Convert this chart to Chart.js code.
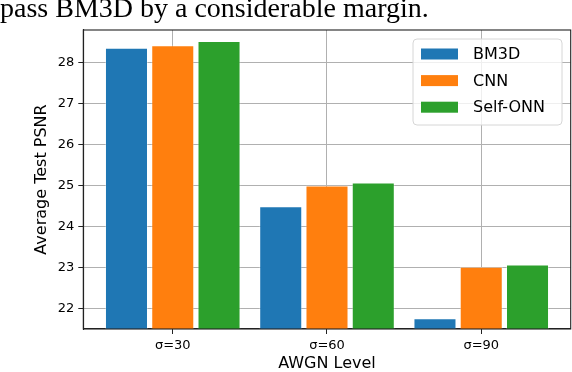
<!DOCTYPE html>
<html>
<head>
<meta charset="utf-8">
<script src="https://cdn.jsdelivr.net/npm/chart.js@4.4.1/dist/chart.umd.min.js"></script>
<style>
  html, body { margin: 0; padding: 0; background: #fff; overflow: hidden; }
  #wrap { position: relative; width: 572px; height: 372px; }
  #caption {
    position: absolute; left: 0; top: -8px; white-space: nowrap;
    font-family: "Liberation Serif", serif; font-size: 28px; color: #000;
  }
  canvas { position: absolute; left: 0; top: 0; }
</style>
</head>
<body>
<div id="wrap">
  <canvas id="chart" width="572" height="372"></canvas>
  <div id="caption">pass BM3D by a considerable margin.</div>
</div>
<script>
// data
const levels = ["σ=30", "σ=60", "σ=90"];
const levelPos = [0, 1, 2];
const bm3d = [28.36, 24.49, 21.76];
const cnn = [28.42, 25.0, 23.02];
const selfOnn = [28.52, 25.07, 23.07];
const yTicks = [22, 23, 24, 25, 26, 27, 28];

const toPoints = vals => vals.map((v, i) => ({ x: levelPos[i], y: v }));

// matplotlib-style legend box in the upper right
const boxLegend = {
  id: "boxLegend",
  afterDraw(chart) {
    const ctx = chart.ctx;
    const x = 413, y = 39, w = 149, h = 86;
    ctx.save();
    ctx.beginPath();
    ctx.roundRect(x, y, w, h, 4);
    ctx.fillStyle = "rgba(255,255,255,0.8)";
    ctx.fill();
    ctx.strokeStyle = "#d6d6d6";
    ctx.lineWidth = 1;
    ctx.stroke();
    ctx.font = "16px 'DejaVu Sans'";
    ctx.textBaseline = "middle";
    chart.data.datasets.forEach((ds, i) => {
      const cy = y + 15 + i * 26.6;
      ctx.fillStyle = ds.backgroundColor;
      ctx.fillRect(x + 8, cy - 5.5, 37, 11);
      ctx.fillStyle = "#000";
      ctx.fillText(ds.label, x + 60, cy + 1);
    });
    ctx.restore();
  },
};

// top and right spines
const frame = {
  id: "frame",
  afterDatasetsDraw(chart) {
    const { ctx, chartArea: a } = chart;
    ctx.save();
    ctx.strokeStyle = "#222";
    ctx.lineWidth = 1.1;
    ctx.strokeRect(a.left, a.top, a.right - a.left, a.bottom - a.top);
    ctx.restore();
  },
};

const barStyle = { borderWidth: 1, borderColor: "rgba(255,255,255,0.35)", borderSkipped: "start" };

new Chart(document.getElementById("chart"), {
  type: "bar",
  data: {
    datasets: [
      { label: "BM3D", data: toPoints(bm3d), backgroundColor: "#1f77b4", ...barStyle },
      { label: "CNN", data: toPoints(cnn), backgroundColor: "#ff7f0e", ...barStyle },
      { label: "Self-ONN", data: toPoints(selfOnn), backgroundColor: "#2ca02c", ...barStyle },
    ],
  },
  options: {
    responsive: false,
    animation: false,
    layout: { padding: { top: 30, right: 1.3, left: 0, bottom: 0 } },
    datasets: { bar: { categoryPercentage: 0.9, barPercentage: 0.93 } },
    plugins: { legend: { display: false }, tooltip: { enabled: false } },
    scales: {
      x: {
        type: "linear",
        offset: false,
        min: -0.58,
        max: 2.58,
        afterBuildTicks: s => { s.ticks = levelPos.map(v => ({ value: v })); },
        afterFit: s => { s.height = 43; },
        ticks: {
          callback: v => levels[levelPos.indexOf(v)] ?? "",
          font: { family: "DejaVu Sans", size: 13 },
          color: "#000",
          padding: 4,
          maxRotation: 0,
        },
        grid: { color: "#b0b0b0", lineWidth: 1, tickLength: 5, tickColor: "#222", offset: false },
        border: { color: "#222", width: 1.1 },
        title: {
          display: true,
          text: "AWGN Level",
          font: { family: "DejaVu Sans", size: 16 },
          color: "#000",
          padding: { top: 0, bottom: -1.5 },
        },
      },
      y: {
        min: 21.5,
        max: 28.79,
        afterBuildTicks: s => { s.ticks = yTicks.map(v => ({ value: v })); },
        afterFit: s => { s.width = 83.3; },
        ticks: {
          font: { family: "DejaVu Sans", size: 13 },
          color: "#000",
          padding: 4,
        },
        grid: { color: "#b0b0b0", lineWidth: 1, tickLength: 5, tickColor: "#222" },
        border: { color: "#222", width: 1.1 },
        title: {
          display: true,
          text: "Average Test PSNR",
          font: { family: "DejaVu Sans", size: 16 },
          color: "#000",
          padding: { top: 32, bottom: 0 },
        },
      },
    },
  },
  plugins: [frame, boxLegend],
});
</script>
</body>
</html>
